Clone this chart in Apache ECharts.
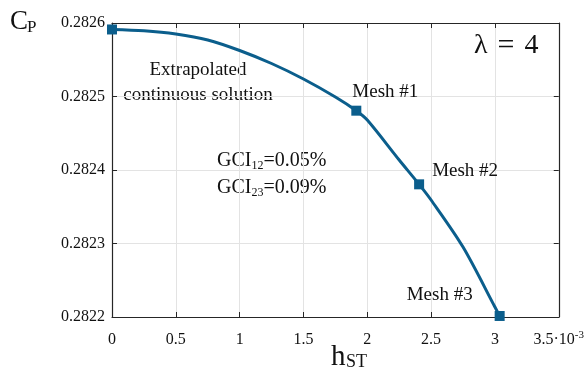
<!DOCTYPE html>
<html>
<head>
<meta charset="utf-8">
<script src="https://cdn.jsdelivr.net/npm/echarts@6/dist/echarts.min.js"></script>
<style>
  html, body { margin: 0; padding: 0; background: #fff; }
  #chart { width: 587px; height: 369px; }
</style>
</head>
<body>
<div id="chart"></div>
<script>
// curve (h in units of 1e-3)
const curveH = [0, 0.25, 0.5, 0.75, 1.0, 1.25, 1.5, 1.75, 1.914, 2.0, 2.25, 2.406, 2.5, 2.75, 3.0, 3.037];
const curveCp = [0.2825912, 0.2825894, 0.2825850, 0.2825769, 0.2825626, 0.2825449, 0.2825238, 0.2824993,
                 0.2824807, 0.2824680, 0.2824136, 0.2823805, 0.2823592, 0.2822952, 0.2822136, 0.2822014];

// marked points: extrapolated + three meshes
const pointH = [0, 1.914, 2.406, 3.037];
const pointCp = [0.2825912, 0.2824807, 0.2823805, 0.2822014];
const pointNames = ['', 'Mesh #1', 'Mesh #2', 'Mesh #3'];

const yTicks = [0.2822, 0.2823, 0.2824, 0.2825, 0.2826];

const lineColor = '#0b5e8c';
const axisColor = '#262626';
const gridColor = '#e3e3e3';
const textColor = '#111';
const font = '"Liberation Serif", "DejaVu Serif", serif';

// label offsets for the mesh tags
const labelOffsets = [[0, 0], [29, -19], [46, -13], [-60, -21]];

const chart = echarts.init(document.getElementById('chart'));

const baseAxis = {
  axisLine: { show: true, onZero: false, lineStyle: { color: axisColor, width: 1.2 } },
  axisTick: { show: true, inside: true, length: 5, lineStyle: { color: axisColor } }
};

chart.setOption({
  animation: false,
  grid: { left: 112, right: 27, top: 23, bottom: 52 },
  xAxis: [
    Object.assign({}, baseAxis, {
      type: 'value', min: 0, max: 3.5, interval: 0.5,
      axisLabel: {
        color: textColor, fontFamily: font, fontSize: 16, margin: 13,
        formatter: function (v) {
          if (Math.abs(v - 3.5) < 1e-9) return '{n|3.5·10}{s|-3}';
          return '{n|' + v + '}';
        },
        rich: {
          n: { fontFamily: font, fontSize: 16, color: textColor, lineHeight: 20 },
          s: { fontFamily: font, fontSize: 11, color: textColor, verticalAlign: 'top', lineHeight: 12 }
        }
      },
      splitLine: { show: true, lineStyle: { color: gridColor, width: 1 } }
    }),
    Object.assign({}, baseAxis, {
      type: 'value', min: 0, max: 3.5, interval: 0.5, position: 'top',
      axisLabel: { show: false }, splitLine: { show: false }
    })
  ],
  yAxis: [
    Object.assign({}, baseAxis, {
      type: 'value', min: yTicks[0], max: yTicks[yTicks.length - 1], interval: 0.0001,
      axisLabel: {
        color: textColor, fontFamily: font, fontSize: 16, margin: 7,
        formatter: v => v.toFixed(4)
      },
      splitLine: { show: true, lineStyle: { color: gridColor, width: 1 } }
    }),
    Object.assign({}, baseAxis, {
      type: 'value', min: yTicks[0], max: yTicks[yTicks.length - 1], interval: 0.0001, position: 'right',
      axisLabel: { show: false }, splitLine: { show: false }
    })
  ],
  series: [
    {
      type: 'line',
      data: curveH.map((h, i) => [h, curveCp[i]]),
      smooth: 0.3,
      showSymbol: false,
      clip: false,
      lineStyle: { color: lineColor, width: 3 },
      z: 3
    },
    {
      type: 'scatter',
      data: pointH.map((h, i) => ({
        value: [h, pointCp[i]],
        label: {
          show: pointNames[i] !== '',
          formatter: pointNames[i],
          offset: labelOffsets[i]
        }
      })),
      symbol: 'rect',
      symbolSize: 10,
      clip: false,
      itemStyle: { color: lineColor, opacity: 1 },
      label: {
        position: 'inside', color: textColor, fontFamily: font, fontSize: 19,
        textBorderWidth: 0, textBorderColor: 'transparent'
      },
      z: 4
    }
  ],
  graphic: [
    { type: 'text', left: 10, top: 8, style: { text: 'C', fontFamily: font, fontSize: 27, fill: textColor } },
    { type: 'text', left: 27, top: 19, style: { text: 'P', fontFamily: font, fontSize: 17, fill: textColor } },
    { type: 'text', left: 331, top: 343, style: { text: 'h', fontFamily: font, fontSize: 29, fill: textColor } },
    { type: 'text', left: 346, top: 353, style: { text: 'ST', fontFamily: font, fontSize: 18, fill: textColor } },
    {
      type: 'text', left: 474, top: 31,
      style: {
        text: '{a|λ}{b|=}{a|4}',
        rich: {
          a: { fontFamily: font, fontSize: 28, fill: textColor },
          b: { fontFamily: font, fontSize: 30, fill: textColor, padding: [0, 10, 0, 10] }
        }
      }
    },
    {
      type: 'text', x: 198, y: 58,
      style: {
        text: 'Extrapolated\ncontinuous solution', align: 'center',
        fontFamily: font, fontSize: 19, lineHeight: 25, fill: textColor
      }
    },
    {
      type: 'text', left: 217, top: 150,
      style: {
        text: '{t|GCI}{s|12}{t|=0.05%}\n{t|GCI}{s|23}{t|=0.09%}',
        rich: {
          t: { fontFamily: font, fontSize: 20, fill: textColor, lineHeight: 27 },
          s: { fontFamily: font, fontSize: 12, fill: textColor, lineHeight: 27, padding: [10, 0, 0, 0] }
        }
      }
    }
  ]
});
</script>
</body>
</html>
